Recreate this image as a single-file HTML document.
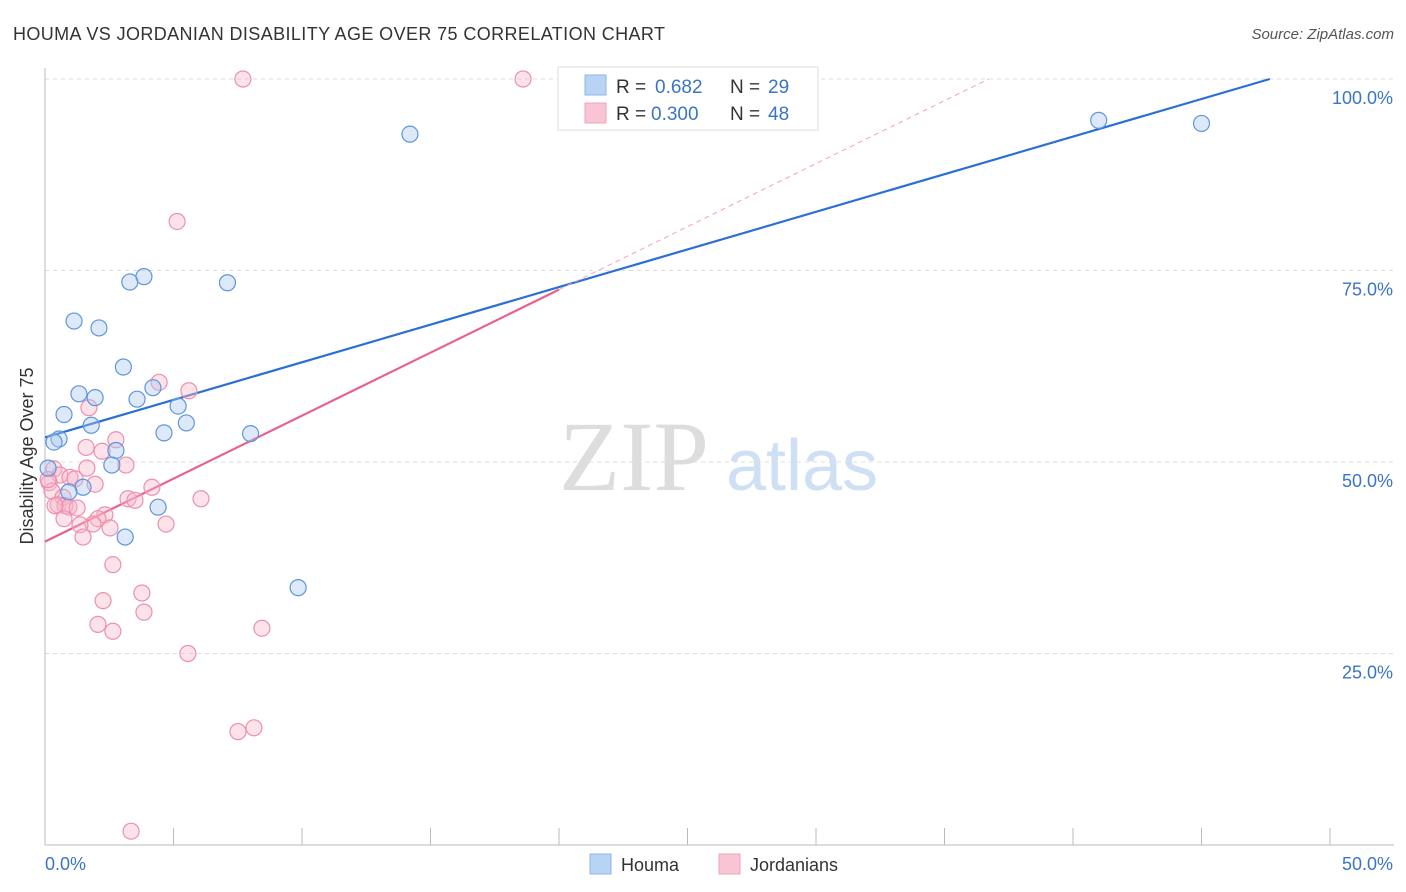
<!DOCTYPE html>
<html><head><meta charset="utf-8"><style>
body{margin:0;background:#fff;font-family:"Liberation Sans",sans-serif}
svg{display:block}
</style></head><body>
<svg id="chart" width="1406" height="892" xmlns="http://www.w3.org/2000/svg">
<text x="13" y="40" font-size="18" fill="#333" textLength="652">HOUMA VS JORDANIAN DISABILITY AGE OVER 75 CORRELATION CHART</text>
<text x="1394" y="39" font-size="15" fill="#555" font-style="italic" text-anchor="end">Source: ZipAtlas.com</text>
<g>
<text x="634" y="490" font-size="100" fill="#ddd" text-anchor="middle" font-family="Liberation Serif, serif">ZIP</text>
<text x="802" y="490" font-size="72" fill="#cfe0f5" text-anchor="middle">atlas</text>
</g>
<g id="grid"></g>
<g id="axes"></g>
<g id="lines"></g>
<g id="points"></g>
<text transform="translate(33,456) rotate(-90)" font-size="18" fill="#333" text-anchor="middle">Disability Age Over 75</text>
<g>
<rect x="558" y="67" width="260" height="63" fill="#fff" stroke="#ddd"/>
<rect x="585" y="75" width="21" height="20" fill="#b9d3f5" stroke="#8fb4e8"/>
<rect x="585" y="103" width="21" height="20" fill="#f9c5d4" stroke="#f0a3bb"/>
<text x="616" y="93" font-size="19" fill="#333">R = </text><text x="655" y="93" font-size="19" fill="#3a75c4">0.682</text>
<text x="730" y="93" font-size="19" fill="#333">N = </text><text x="768" y="93" font-size="19" fill="#3a75c4">29</text>
<text x="616" y="120" font-size="19" fill="#333">R = </text><text x="651" y="120" font-size="19" fill="#3a75c4">0.300</text>
<text x="730" y="120" font-size="19" fill="#333">N = </text><text x="768" y="120" font-size="19" fill="#3a75c4">48</text>
</g>
<g>
<rect x="590" y="854" width="21" height="20" fill="#b9d3f5" stroke="#8fb4e8"/>
<text x="621" y="871" font-size="18" fill="#333">Houma</text>
<rect x="719" y="854" width="21" height="20" fill="#f9c5d4" stroke="#f0a3bb"/>
<text x="750" y="871" font-size="18" fill="#333">Jordanians</text>
</g>
</svg>
<script>
const yTicks=[25,50,75,100];
const yTickLabels=["25.0%","50.0%","75.0%","100.0%"];
const houmaX=[41.0,45.0,14.2,3.85,3.3,7.1,1.13,2.1,3.05,4.2,1.32,1.95,3.58,5.18,0.74,1.8,5.5,4.63,8.0,0.545,0.35,2.76,2.6,0.12,1.48,0.93,4.4,3.12,9.85];
const houmaY=[94.6,94.2,92.8,74.2,73.5,73.4,68.4,67.5,62.4,59.7,58.9,58.4,58.2,57.3,56.2,54.8,55.1,53.8,53.7,53.0,52.6,51.5,49.6,49.2,46.7,46.1,44.1,40.2,33.6];
const jordX=[7.7,18.6,5.14,4.44,5.6,1.71,2.76,1.6,2.22,3.15,1.63,0.35,0.58,0.97,1.17,0.16,1.95,4.16,0.27,0.7,3.23,3.5,6.07,0.51,0.78,0.93,1.25,0.39,2.33,0.74,2.06,1.87,1.36,2.53,4.71,1.48,2.64,3.77,2.26,3.85,2.06,2.64,8.44,5.56,7.51,8.13,3.35,0.12];
const jordY=[100,100,81.4,60.4,59.3,57.1,52.9,51.9,51.4,49.6,49.2,49.1,48.3,48.0,47.8,47.3,47.1,46.7,46.2,45.4,45.2,45.0,45.2,44.4,44.3,44.1,44.0,44.3,43.1,42.6,42.6,41.9,41.8,41.4,41.9,40.2,36.6,32.9,31.9,30.4,28.8,27.9,28.3,25.0,14.8,15.3,1.8,47.7];
const houmaFit=[53.2,0.982];
const jordFit=[39.6,1.645];
const X0=45,X1=1330,Y0=845,Y100=79;
const sx=v=>X0+(X1-X0)*v/50, sy=v=>Y0-(Y0-Y100)*v/100;
const NS="http://www.w3.org/2000/svg";
function mk(t,a,p){const e=document.createElementNS(NS,t);for(const k in a)e.setAttribute(k,a[k]);p.appendChild(e);return e;}
const grid=document.getElementById('grid'),axes=document.getElementById('axes');
yTicks.forEach((t,i)=>{
 const l=mk('line',{x1:45,x2:1394,y1:sy(t),y2:sy(t),stroke:'#ddd','stroke-dasharray':'4,4'},grid);
 
 
 const tx=mk('text',{x:1393,y:sy(t)+25,'font-size':18,fill:'#3a75c4','text-anchor':'end'},axes);
 tx.textContent=yTickLabels[i];
 
 
});
mk('line',{x1:45,x2:45,y1:68,y2:845,stroke:'#bbb'},axes);
mk('line',{x1:45,x2:1394,y1:845,y2:845,stroke:'#bbb'},axes);
for(let i=0;i<=10;i++){const t=mk('line',{x1:sx(i*5),x2:sx(i*5),y1:828,y2:845,stroke:'#bbb'},axes);
 
 }
const xl0=mk('text',{x:45,y:870,'font-size':18,fill:'#3a75c4'},axes);xl0.textContent='0.0%';


const xl1=mk('text',{x:1393,y:870,'font-size':18,fill:'#3a75c4','text-anchor':'end'},axes);xl1.textContent='50.0%';


const lines=document.getElementById('lines');
const hxEnd=(100-houmaFit[0])/houmaFit[1];
const hl=mk('line',{x1:sx(0),y1:sy(houmaFit[0]),x2:sx(hxEnd),y2:sy(100),stroke:'#2a6fd6','stroke-width':2.2},lines);


const jxEnd=(100-jordFit[0])/jordFit[1];
const jd=mk('line',{x1:sx(20),y1:sy(jordFit[0]+jordFit[1]*20),x2:sx(jxEnd),y2:sy(100),stroke:'#f0a3bb','stroke-width':1,'stroke-dasharray':'5,4'},lines);


const jl=mk('line',{x1:sx(0),y1:sy(jordFit[0]),x2:sx(20),y2:sy(jordFit[0]+jordFit[1]*20),stroke:'#e8608f','stroke-width':2.2},lines);


const pts=document.getElementById('points');
jordX.forEach((x,i)=>{const c=mk('circle',{cx:sx(x),cy:sy(jordY[i]),r:8,fill:'rgba(247,182,200,0.4)',stroke:'#ee8fb0','stroke-width':1.2},pts);
 
 });
houmaX.forEach((x,i)=>{const c=mk('circle',{cx:sx(x),cy:sy(houmaY[i]),r:8,fill:'rgba(169,200,240,0.4)',stroke:'#5f95dc','stroke-width':1.2},pts);
 
 });
</script>
</body></html>
